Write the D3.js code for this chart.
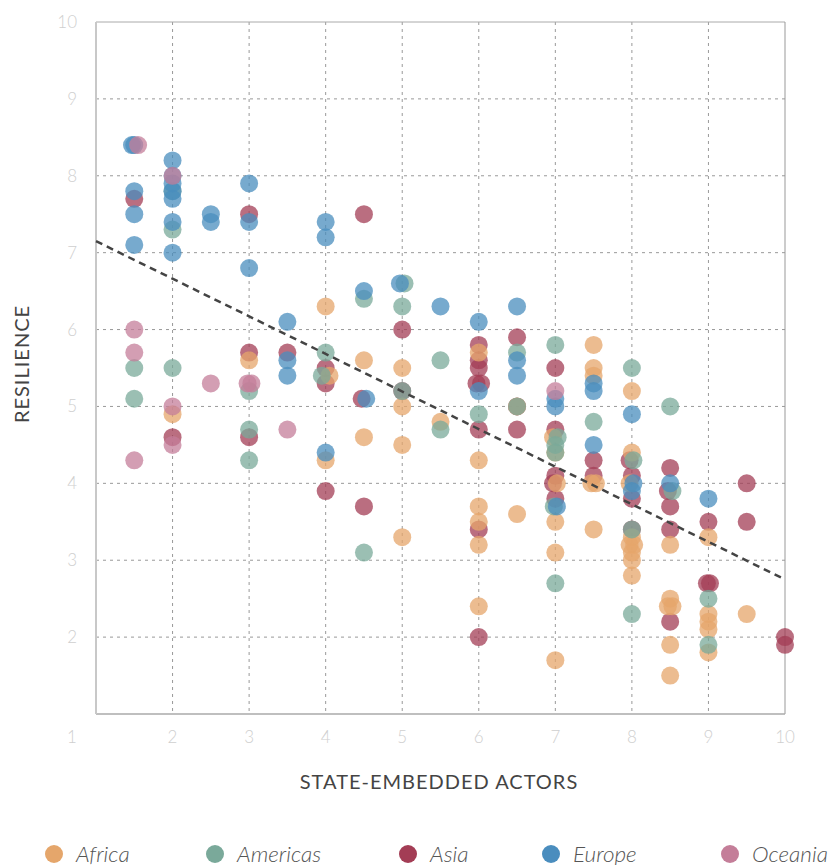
<!DOCTYPE html>
<html>
<head>
<meta charset="utf-8">
<script src="https://cdn.jsdelivr.net/npm/d3@7"></script>
<style>
  body { margin: 0; background: #fff; }
  svg text { font-family: Lato, "Open Sans", sans-serif; }
</style>
</head>
<body>
<svg width="830" height="865"></svg>
<script>
// [state-embedded actors, resilience] per region
const africa = [[2,4.9],[3,5.6],[4,6.3],[4.05,5.4],[4,4.3],[4.5,5.6],[4.5,4.6],[5,5.5],[5,5.0],[5,4.5],[5,3.3],
  [5.5,4.8],[6,5.7],[6,4.3],[6,3.7],[6,3.5],[6,3.2],[6,2.4],[6.5,5.0],[6.5,3.6],[6.97,4.6],[7,4.4],[7.02,4.0],
  [7,3.5],[7,3.1],[7,1.7],[7.5,5.8],[7.5,5.5],[7.5,5.4],[7.47,4.0],[7.53,4.0],[7.5,3.4],[8,5.2],[8,4.4],[7.97,4.0],
  [8,3.3],[7.97,3.2],[8.03,3.2],[8,3.1],[8,3.0],[8,2.8],[8.5,3.2],[8.5,2.5],[8.47,2.4],[8.53,2.4],[8.5,1.9],
  [8.5,1.5],[9,3.3],[9,2.3],[9,2.2],[9,2.1],[9,1.8],[9.5,2.3]]
const americas = [[1.5,5.5],[1.5,5.1],[2,7.8],[2,7.3],[2,5.5],[3,5.2],[3,4.7],[3,4.3],[4,5.7],[3.95,5.4],[4.5,6.4],
  [4.5,3.1],[5.03,6.6],[5,6.3],[5,5.2],[5.5,5.6],[5.5,4.7],[6,4.9],[6.5,5.7],[6.5,5.0],[7,5.8],[7.03,4.6],[7,4.5],
  [7,4.4],[6.98,3.7],[7,2.7],[7.5,4.8],[8,5.5],[8.02,4.3],[8,3.4],[8,2.3],[8.5,5.0],[8.53,3.9],[9,2.5],[9,1.9]]
const asia = [[1.5,7.7],[2,4.6],[3,7.5],[3,5.7],[3,4.6],[3.5,5.7],[4,5.5],[4,5.3],[4,3.9],[4.5,7.5],[4.47,5.1],
  [4.5,3.7],[5,6.0],[5,5.2],[6,5.8],[6,5.6],[6,5.5],[5.97,5.3],[6.03,5.3],[6,4.7],[6,3.4],[6,2.0],[6.5,5.9],
  [6.5,5.0],[6.5,4.7],[7,5.5],[7,4.7],[7,4.1],[6.97,4.0],[7,3.8],[7.5,4.3],[7.5,4.1],[7.97,4.3],[8,4.1],[8,3.8],
  [8,3.4],[8.5,4.2],[8.47,3.9],[8.5,3.7],[8.5,3.4],[8.5,2.2],[9,3.5],[8.98,2.7],[9.02,2.7],[9.5,4.0],[9.5,3.5],
  [10,2.0],[10,1.9]]
const europe = [[1.47,8.4],[1.5,8.4],[1.5,7.8],[1.5,7.5],[1.5,7.1],[2,8.2],[2,8.0],[2,7.9],[2,7.8],[2,7.7],[2,7.4],
  [2,7.0],[2.5,7.5],[2.5,7.4],[3,7.9],[3,7.4],[3,6.8],[3.5,6.1],[3.5,5.6],[3.5,5.4],[4,7.4],[4,7.2],[4,4.4],
  [4.5,6.5],[4.53,5.1],[4.97,6.6],[5.5,6.3],[6,6.1],[6,5.2],[6.5,6.3],[6.5,5.6],[6.5,5.4],[7,5.1],[7,5.0],
  [7.02,3.7],[7.5,5.3],[7.5,5.2],[7.5,4.5],[8,4.9],[8.02,4.0],[8,3.9],[8.5,4.0],[9,3.8]]
const oceania = [[1.55,8.4],[1.5,6.0],[1.5,5.7],[1.5,4.3],[2,8.0],[2,5.0],[2,4.5],[2.5,5.3],[2.98,5.3],[3.03,5.3],
  [3.5,4.7],[7,5.2]]

const regions = ['Africa', 'Americas', 'Asia', 'Europe', 'Oceania']
const colors = ['#e5a66b', '#7aa99a', '#a33d55', '#4a8dbe', '#c47e99']
const drawOrder = ['Asia', 'Africa', 'Americas', 'Europe', 'Oceania']
const series = { Africa: africa, Americas: americas, Asia: asia, Europe: europe, Oceania: oceania }

const xTicks = [1, 2, 3, 4, 5, 6, 7, 8, 9, 10]
const yTicks = [2, 3, 4, 5, 6, 7, 8, 9, 10]
const trend = [[1, 7.15], [10, 2.75]]

const svg = d3.select('svg')
const margin = { top: 22, right: 45, bottom: 151, left: 96 }
const width = svg.attr('width') - margin.left - margin.right
const height = svg.attr('height') - margin.top - margin.bottom

const x = d3.scaleLinear().domain([1, 10]).range([0, width])
const y = d3.scaleLinear().domain([1, 10]).range([height, 0])
const color = d3.scaleOrdinal(regions, colors)

const g = svg.append('g')
    .attr('transform', `translate(${margin.left},${margin.top})`)

// grid
g.append('g').selectAll('line')
    .data(xTicks.slice(1, -1))
    .enter().append('line')
    .attr('x1', d => x(d)).attr('x2', d => x(d))
    .attr('y1', 0).attr('y2', height)
    .attr('stroke', '#999').attr('stroke-dasharray', '3,4')
g.append('g').selectAll('line')
    .data(yTicks.slice(0, -1))
    .enter().append('line')
    .attr('y1', d => y(d)).attr('y2', d => y(d))
    .attr('x1', 0).attr('x2', width)
    .attr('stroke', '#999').attr('stroke-dasharray', '3,4')

// frame
g.append('line').attr('x1', 0).attr('x2', width).attr('y1', 0).attr('y2', 0).attr('stroke', '#aaa')
g.append('line').attr('x1', width).attr('x2', width).attr('y1', 0).attr('y2', height).attr('stroke', '#999')
g.append('line').attr('x1', 0).attr('x2', width).attr('y1', height).attr('y2', height).attr('stroke', '#aaa').attr('stroke-width', 1.5)
g.append('line').attr('x1', 0).attr('x2', 0).attr('y1', 0).attr('y2', height).attr('stroke', '#c8c8c8').attr('stroke-width', 2)

// tick labels
g.append('g').selectAll('text')
    .data(yTicks)
    .enter().append('text')
    .attr('x', -19).attr('y', d => y(d))
    .attr('dy', '0.35em').attr('text-anchor', 'end')
    .attr('font-size', 17).attr('font-weight', 300).attr('fill', '#cfcfcf')
    .text(d => d)
g.append('g').selectAll('text')
    .data(xTicks)
    .enter().append('text')
    .attr('x', d => x(d) + (d === 1 ? -24 : 0)).attr('y', height + 29)
    .attr('text-anchor', 'middle')
    .attr('font-size', 17).attr('font-weight', 300).attr('fill', '#cfcfcf')
    .text(d => d)

// axis titles
svg.append('text')
    .attr('transform', `translate(29,${margin.top + height / 2 - 4}) rotate(-90)`)
    .attr('text-anchor', 'middle')
    .attr('font-size', 20).attr('letter-spacing', 1).attr('fill', '#444')
    .text('RESILIENCE')
svg.append('text')
    .attr('x', 439).attr('y', 789)
    .attr('text-anchor', 'middle')
    .attr('font-size', 20).attr('letter-spacing', 1).attr('fill', '#444')
    .text('STATE-EMBEDDED ACTORS')

// points
drawOrder.forEach(r => {
    g.append('g').selectAll('circle')
        .data(series[r])
        .enter().append('circle')
        .attr('cx', d => x(d[0]))
        .attr('cy', d => y(d[1]))
        .attr('r', 9)
        .attr('fill', color(r))
        .attr('fill-opacity', 0.75)
})

// trend line
g.append('path')
    .datum(trend)
    .attr('d', d3.line().x(d => x(d[0])).y(d => y(d[1])))
    .attr('fill', 'none')
    .attr('stroke', '#444')
    .attr('stroke-width', 2.5)
    .attr('stroke-dasharray', '7,5')

// legend
const legendX = [54, 215, 408, 551, 730]
const legend = svg.append('g').selectAll('g')
    .data(regions)
    .enter().append('g')
    .attr('transform', (d, i) => `translate(${legendX[i]},854)`)
legend.append('circle')
    .attr('r', 9)
    .attr('fill', d => color(d))
legend.append('text')
    .attr('x', 22).attr('dy', '0.35em')
    .attr('font-size', 22.5).attr('font-style', 'italic').attr('font-weight', 300)
    .attr('fill', '#555')
    .text(d => d)
</script>
</body>
</html>
